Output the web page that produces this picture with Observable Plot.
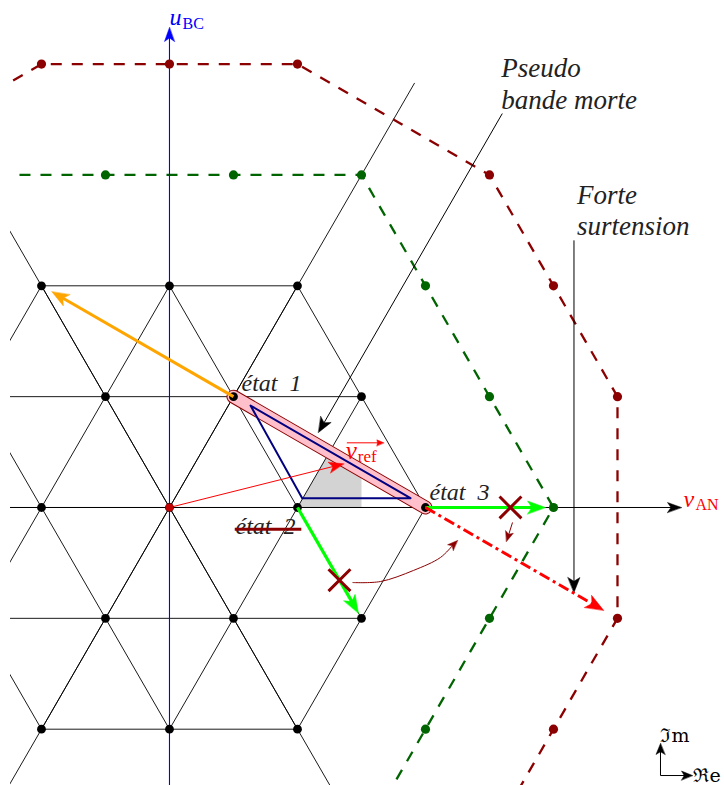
<!DOCTYPE html>
<html><head><meta charset="utf-8">
<script src="https://cdn.jsdelivr.net/npm/d3@7"></script>
<script src="https://cdn.jsdelivr.net/npm/@observablehq/plot@0.6"></script>
<style>body{margin:0;background:#fff}#chart svg{display:block}</style>
</head><body><div id="chart"></div>
<script>
const SQ3 = Math.sqrt(3);
const H = SQ3 / 2;

// ---------- data (lattice units: u along v_AN, r = index of horizontal row) ----------
const latticeRadius = 2;                 // 3-level inverter hexagon
const extendedLineReach = 3.83;          // reach of the lattice lines through the origin
const axisUEnd = 4.0;                    // v_AN arrow end (u)
const axisVEnd = 3.75;                   // u_BC arrow end (v)

const limitHexVertices = [[-1.5, 3], [1.5, 3], [3, 0], [1.5, -3]];
const limitHexDots = [[-0.5, 3], [0.5, 3], [1.5, 3], [2, 2], [2.5, 1], [3, 0], [2.5, -1], [2, -2]];
const overVertices = [[-2.5, 3], [-1, 4], [1, 4], [2.5, 3], [3.5, 1], [3.5, -1], [2.5, -3]];
const overDots = [[-1, 4], [0, 4], [1, 4], [2.5, 3], [3, 2], [3.5, 1], [3.5, -1], [3, -2]];

const stateLabels = ["état\u00A0\u00A01", "état\u00A0\u00A02", "état\u00A0\u00A03"];
const statePoints = [[0.5, 1], [1, 0], [2, 0]];
const vrefPoint = [1.362, 0.394];
const blueTriangle = [[0.633, 0.92], [1.037, 0.084], [1.883, 0.084]];
const sectorU = [1, 1.5];
const orangeTarget = [-1, 2];
const greenTargets = [[3, 0], [1.5, -1]];
const crossPoints = [[2.664, 0], [1.328, -0.656]];
const redTarget = [3.5, -1];
const pseudoTop = [2.6, 3.554], pseudoTip = [1.164, 0.677];
const forteTop = [3.16, 2.41], forteTip = [3.16, -0.767];
const curvedArrowPts = [[1.43, -0.677], [1.648, -0.668], [1.906, -0.568], [2.117, -0.451], [2.25, -0.298]];
const smallArrowPts = [[2.68, -0.135], [2.633, -0.307]];
const compassOrigin = [3.836, -2.418], compassLen = 0.25;
const pseudoText = "Pseudo\nbande morte";
const forteText = "Forte\nsurtension";

// ---------- geometry helpers ----------
const W = 724, HT = 785, mL = 10;
const xDomain = [-1.242, 4.336], yDomain = [-2.172, 3.961];
const k = (W - mL) / (xDomain[1] - xDomain[0]); // px per unit
const P = ([u, r]) => [u, r * H];
const pt = (p, extra = {}) => ({x: p[0], y: p[1], ...extra});

function arrowGeom(id, pts, {shortenPx = 0, headLen = 14, headHalf = 5.5, notch = 0.75} = {}) {
  const a = pts[pts.length - 2], b = pts[pts.length - 1];
  const dx = b[0] - a[0], dy = b[1] - a[1], L = Math.hypot(dx, dy);
  const d = [dx / L, dy / L], n = [-d[1], d[0]];
  const tip = [b[0] - d[0] * shortenPx / k, b[1] - d[1] * shortenPx / k];
  const hl = headLen / k, hw = headHalf / k;
  const back = [tip[0] - d[0] * hl, tip[1] - d[1] * hl];
  const head = [tip, [back[0] + n[0] * hw, back[1] + n[1] * hw],
    [tip[0] - d[0] * hl * notch, tip[1] - d[1] * hl * notch],
    [back[0] - n[0] * hw, back[1] - n[1] * hw]].map(p => pt(p, {id}));
  const end = [tip[0] - d[0] * hl * notch * 0.9, tip[1] - d[1] * hl * notch * 0.9];
  const shaft = pts.slice(0, -1).map(p => pt(p, {id})).concat([pt(end, {id})]);
  return {shaft, head};
}
function arrowMarks(g, stroke, width, extra = {}, fill = stroke) {
  return [
    Plot.line(g.shaft, {x: "x", y: "y", stroke, strokeWidth: width, strokeLinecap: "butt", clip: true, ...extra}),
    Plot.line(g.head, {x: "x", y: "y", fill, stroke: fill, strokeWidth: 0.5, curve: "linear-closed", clip: true})
  ];
}

// lattice points and edges
const hexPts = [];
const inside = (a, b) => Math.max(Math.abs(a), Math.abs(b), Math.abs(a + b)) <= latticeRadius;
for (let a = -latticeRadius; a <= latticeRadius; a++)
  for (let b = -latticeRadius; b <= latticeRadius; b++)
    if (inside(a, b)) hexPts.push([a + b / 2, b]);
const segs = [];
for (let a = -latticeRadius; a <= latticeRadius; a++)
  for (let b = -latticeRadius; b <= latticeRadius; b++) {
    if (!inside(a, b)) continue;
    for (const [da, db] of [[1, 0], [0, 1], [-1, 1]]) {
      if (inside(a + da, b + db)) {
        const p1 = P([a + b / 2, b]), p2 = P([a + da + (b + db) / 2, b + db]);
        segs.push({x1: p1[0], y1: p1[1], x2: p2[0], y2: p2[1]});
      }
    }
  }
for (const dir of [[0.5, H], [-0.5, H]]) {
  segs.push({x1: -dir[0] * extendedLineReach, y1: -dir[1] * extendedLineReach,
             x2: dir[0] * extendedLineReach, y2: dir[1] * extendedLineReach});
}

// sector (grey) containing v_ref
const lineE13 = u => (2 - u) / SQ3;         // état1–état3 edge
const line60 = u => SQ3 * (u - 1);          // lattice line through état 2
const uI = 1.25;
const sector = [[sectorU[0], 0], [uI, line60(uI)], [sectorU[1], lineE13(sectorU[1])], [sectorU[1], 0]].map(p => pt(p));

const S = statePoints.map(P);
const vref = P(vrefPoint);

// arrows
const gOrange = arrowGeom("o", [S[0], P(orangeTarget)], {shortenPx: 12, headLen: 17, headHalf: 6.5});
const gGreen1 = arrowGeom("g1", [S[2], P(greenTargets[0])], {shortenPx: 8, headLen: 18, headHalf: 6.5});
const gGreen2 = arrowGeom("g2", [S[1], P(greenTargets[1])], {shortenPx: 6, headLen: 18, headHalf: 6.5});
const gRed = arrowGeom("r", [S[2], P(redTarget)], {shortenPx: 16, headLen: 18, headHalf: 7});
const gVref = arrowGeom("v", [[0, 0], vref], {headLen: 15, headHalf: 5.5});
const gPseudo = arrowGeom("p", [P(pseudoTop), P(pseudoTip)], {headLen: 15, headHalf: 6});
const gForte = arrowGeom("f", [P(forteTop), P(forteTip)], {headLen: 15, headHalf: 6});
const gAxisX = arrowGeom("ax", [[-4, 0], [axisUEnd, 0]], {headLen: 14, headHalf: 5});
const gAxisY = arrowGeom("ay", [[0, -3], [0, axisVEnd]], {headLen: 14, headHalf: 5});
const gCurve = arrowGeom("c", curvedArrowPts.map(P), {headLen: 10, headHalf: 4});
const gSmall = arrowGeom("s", smallArrowPts.map(P), {headLen: 10, headHalf: 4});
const cO = P(compassOrigin);
const gIm = arrowGeom("im", [cO, [cO[0], cO[1] + compassLen]], {headLen: 11, headHalf: 4.5});
const gRe = arrowGeom("re", [cO, [cO[0] + compassLen, cO[1]]], {headLen: 11, headHalf: 4.5});
// over-arrow of the v_ref label (offsets from the v_ref tip, in px)
const ovA = [vref[0] + 3 / k, vref[1] + 21 / k], ovB = [vref[0] + 40 / k, vref[1] + 21 / k];
const gOver = arrowGeom("ov", [ovA, ovB], {headLen: 7, headHalf: 3, notch: 0.9});

const serif = "Liberation Serif, Times New Roman, serif";
const dashed = {strokeDasharray: "11,10", strokeLinecap: "butt", strokeWidth: 2.3};

const chart = Plot.plot({
  width: W, height: HT, marginLeft: mL, marginRight: 0, marginTop: 0, marginBottom: 0,
  x: {domain: xDomain, axis: null},
  y: {domain: yDomain, axis: null},
  style: {background: "white", overflow: "visible"},
  marks: [
    Plot.line(sector, {x: "x", y: "y", fill: "#d3d3d3", stroke: "none", curve: "linear-closed"}),
    Plot.link(segs, {x1: "x1", y1: "y1", x2: "x2", y2: "y2", stroke: "black", strokeWidth: 0.9, clip: true}),
    // dashed hexagon / dodecagon
    Plot.line(limitHexVertices.map(p => pt(P(p))), {x: "x", y: "y", stroke: "#006400", ...dashed, clip: true}),
    Plot.line(overVertices.map(p => pt(P(p))), {x: "x", y: "y", stroke: "#8b0000", ...dashed, clip: true}),
    // axes
    ...arrowMarks(gAxisX, "black", 1),
    ...arrowMarks(gAxisY, "#0000ff", 1.1),
    // pink band between état 1 and état 3
    Plot.line([pt(S[0]), pt(S[2])], {x: "x", y: "y", stroke: "#8b0000", strokeWidth: 14, strokeLinecap: "round"}),
    Plot.line([pt(S[0]), pt(S[2])], {x: "x", y: "y", stroke: "#ffc0cb", strokeWidth: 12, strokeLinecap: "round"}),
    Plot.line(blueTriangle.map(p => pt(P(p))), {x: "x", y: "y", stroke: "#000080", strokeWidth: 2, curve: "linear-closed"}),
    // pointers
    ...arrowMarks(gPseudo, "black", 1),
    ...arrowMarks(gForte, "black", 1),
    // v_ref
    ...arrowMarks(gVref, "red", 1),
    // lattice dots
    Plot.dot(hexPts.map(p => pt(P(p))), {x: "x", y: "y", r: 4.4, fill: "black", clip: true}),
    Plot.dot([pt([0, 0])], {x: "x", y: "y", r: 4, fill: "#c00000"}),
    Plot.dot(limitHexDots.map(p => pt(P(p))), {x: "x", y: "y", r: 4.6, fill: "#006400", clip: true}),
    Plot.dot(overDots.map(p => pt(P(p))), {x: "x", y: "y", r: 4.6, fill: "#8b0000", clip: true}),
    // vectors
    ...arrowMarks(gOrange, "orange", 3),
    ...arrowMarks(gGreen1, "#00ff00", 3.2),
    ...arrowMarks(gGreen2, "#00ff00", 3.2),
    ...arrowMarks(gRed, "red", 3, {strokeDasharray: "11,4,3,4"}),
    ...arrowMarks(gCurve, "#8b0000", 1, {curve: "catmull-rom"}),
    ...arrowMarks(gSmall, "#8b0000", 1),
    Plot.dot(crossPoints.map(p => pt(P(p))), {x: "x", y: "y", symbol: "times", r: 10, stroke: "#8b0000", strokeWidth: 3}),
    // compass
    ...arrowMarks(gIm, "black", 1),
    ...arrowMarks(gRe, "black", 1),
    // labels
    Plot.text([pt(S[0])], {x: "x", y: "y", text: [stateLabels[0]], dx: 8, dy: -6, textAnchor: "start", lineAnchor: "bottom", fontSize: 24, fontStyle: "italic", fontFamily: serif, fill: "#222"}),
    Plot.text([pt(S[1])], {x: "x", y: "y", text: [stateLabels[1]], dx: -62, dy: 27, textAnchor: "start", lineAnchor: "bottom", fontSize: 24, fontStyle: "italic", fontFamily: serif, fill: "#222"}),
    Plot.link([{x1: S[1][0] - 0.49, x2: S[1][0] + 0.03, y: S[1][1] - 0.17}], {x1: "x1", x2: "x2", y1: "y", y2: "y", stroke: "#8b0000", strokeWidth: 3}),
    Plot.text([pt(S[2])], {x: "x", y: "y", text: [stateLabels[2]], dx: 4, dy: -7, textAnchor: "start", lineAnchor: "bottom", fontSize: 24, fontStyle: "italic", fontFamily: serif, fill: "#222"}),
    Plot.text([pt(vref)], {x: "x", y: "y", text: ["v"], dx: 2, dy: -5, textAnchor: "start", lineAnchor: "bottom", fontSize: 25, fontStyle: "italic", fontFamily: serif, fill: "red"}),
    Plot.text([pt(vref)], {x: "x", y: "y", text: ["ref"], dx: 14, dy: -2, textAnchor: "start", lineAnchor: "bottom", fontSize: 17, fontFamily: serif, fill: "red"}),
    ...arrowMarks(gOver, "red", 1),
    Plot.text([pt([axisUEnd, 0])], {x: "x", y: "y", text: ["v"], dx: 2, dy: 0, textAnchor: "start", lineAnchor: "bottom", fontSize: 24, fontStyle: "italic", fontFamily: serif, fill: "red"}),
    Plot.text([pt([axisUEnd, 0])], {x: "x", y: "y", text: ["AN"], dx: 14, dy: 3, textAnchor: "start", lineAnchor: "bottom", fontSize: 16, fontFamily: serif, fill: "red"}),
    Plot.text([pt([0, axisVEnd])], {x: "x", y: "y", text: ["u"], dx: 0, dy: -3, textAnchor: "start", lineAnchor: "bottom", fontSize: 24, fontStyle: "italic", fontFamily: serif, fill: "blue"}),
    Plot.text([pt([0, axisVEnd])], {x: "x", y: "y", text: ["BC"], dx: 13, dy: 1, textAnchor: "start", lineAnchor: "bottom", fontSize: 16, fontFamily: serif, fill: "blue"}),
    Plot.text([pt(P(pseudoTop))], {x: "x", y: "y", text: [pseudoText], dx: -1, dy: -5, textAnchor: "start", lineAnchor: "bottom", lineHeight: 1.15, fontSize: 27, fontStyle: "italic", fontFamily: serif, fill: "#222"}),
    Plot.text([pt(P(forteTop))], {x: "x", y: "y", text: [forteText], dx: 3, dy: -5, textAnchor: "start", lineAnchor: "bottom", lineHeight: 1.15, fontSize: 27, fontStyle: "italic", fontFamily: serif, fill: "#222"}),
    Plot.text([pt([cO[0], cO[1] + compassLen])], {x: "x", y: "y", text: ["ℑm"], dx: 0, dy: -2, textAnchor: "start", lineAnchor: "bottom", fontSize: 19, fontFamily: "DejaVu Serif", fill: "black"}),
    Plot.text([pt([cO[0] + compassLen, cO[1]])], {x: "x", y: "y", text: ["ℜe"], dx: 1, dy: 6, textAnchor: "start", lineAnchor: "bottom", fontSize: 19, fontFamily: "DejaVu Serif", fill: "black"})
  ]
});
document.getElementById("chart").appendChild(chart);
</script>
</body></html>
